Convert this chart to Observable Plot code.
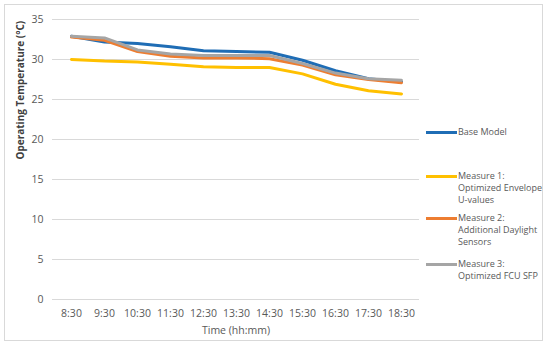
<!DOCTYPE html>
<html><head><meta charset="utf-8">
<script src="https://cdn.jsdelivr.net/npm/d3@7"></script>
<script src="https://cdn.jsdelivr.net/npm/@observablehq/plot@0.6"></script>
<style>
body{margin:0;background:#fff;font-family:"Open Sans",sans-serif;}
#wrap{position:relative;width:550px;height:348px;}
#frame{position:absolute;left:4px;top:4px;width:539px;height:337px;border:1px solid #d9d9d9;box-sizing:border-box;}
#legend{position:absolute;left:426px;top:0;font-size:9px;color:#595959;line-height:12px;}
.item{position:absolute;left:0;white-space:nowrap;}
.sw{position:absolute;left:0;width:31px;height:3px;}
.lt{position:absolute;left:32px;}
</style></head>
<body><div id="wrap"><div id="frame"></div><div id="chart"></div><div id="legend"></div></div>
<script>
const times = ["8:30","9:30","10:30","11:30","12:30","13:30","14:30","15:30","16:30","17:30","18:30"];
const seriesNames = ["Base Model","Measure 1: Optimized Envelope U-values","Measure 2: Additional Daylight Sensors","Measure 3: Optimized FCU SFP"];
const legendLines = [["Base Model"],["Measure 1:","Optimized Envelope","U-values"],["Measure 2:","Additional Daylight","Sensors"],["Measure 3:","Optimized FCU SFP"]];
const colors = ["#1f6db5","#ffc000","#ed7d31","#a5a5a5"];
const baseModel = [32.9,32.2,32.0,31.6,31.1,31.0,30.9,29.9,28.6,27.6,27.2];
const measure1 = [30.0,29.8,29.7,29.4,29.1,29.0,29.0,28.2,26.9,26.1,25.7];
const measure2 = [32.8,32.4,31.0,30.4,30.2,30.2,30.1,29.3,28.1,27.5,27.1];
const measure3 = [32.9,32.7,31.2,30.7,30.5,30.5,30.5,29.5,28.3,27.6,27.4];
const yTicks = [0,5,10,15,20,25,30,35];

const allSeries = [baseModel, measure1, measure2, measure3];
const data = allSeries.flatMap((vals, i) => vals.map((v, j) => ({time: times[j], value: v, series: seriesNames[i]})));

const chart = Plot.plot({
  width: 550, height: 348,
  marginLeft: 52, marginRight: 131, marginTop: 19, marginBottom: 49,
  style: {fontFamily: "Open Sans, sans-serif", fontSize: "10px", color: "#595959", background: "transparent"},
  x: {type: "point", domain: times, padding: 0.5, label: null},
  y: {domain: [0, 35], ticks: yTicks, label: null},
  color: {domain: seriesNames, range: colors},
  marks: [
    Plot.ruleY(yTicks, {stroke: "#d9d9d9", strokeWidth: 1}),
    Plot.axisY({ticks: yTicks, tickSize: 0, tickPadding: 9, fontSize: 10.5, fill: "#595959"}),
    Plot.axisX({tickSize: 0, tickPadding: 10, fontSize: 10.5, fill: "#595959"}),
    Plot.line(data, {x: "time", y: "value", z: "series", stroke: "series", strokeWidth: 3, strokeLinejoin: "round"}),
    Plot.text(["Time (hh:mm)"], {frameAnchor: "bottom", dy: 34, fontSize: 10.5, fill: "#595959"}),
    Plot.text(["Operating Temperature (°C)"], {frameAnchor: "left", dx: -32, rotate: -90, fontSize: 10, fontWeight: "bold", fill: "#404040"})
  ]
});
document.getElementById("chart").appendChild(chart);

const legendTops = [126, 170, 212, 258];
const lg = document.getElementById("legend");
legendLines.forEach((lines, i) => {
  const it = document.createElement("div");
  it.className = "item";
  it.style.top = legendTops[i] + "px";
  const sw = document.createElement("div");
  sw.className = "sw"; sw.style.background = colors[i]; sw.style.top = "5px";
  const lt = document.createElement("div");
  lt.className = "lt";
  lt.innerHTML = lines.join("<br>");
  it.appendChild(sw); it.appendChild(lt);
  lg.appendChild(it);
});
</script></body></html>
